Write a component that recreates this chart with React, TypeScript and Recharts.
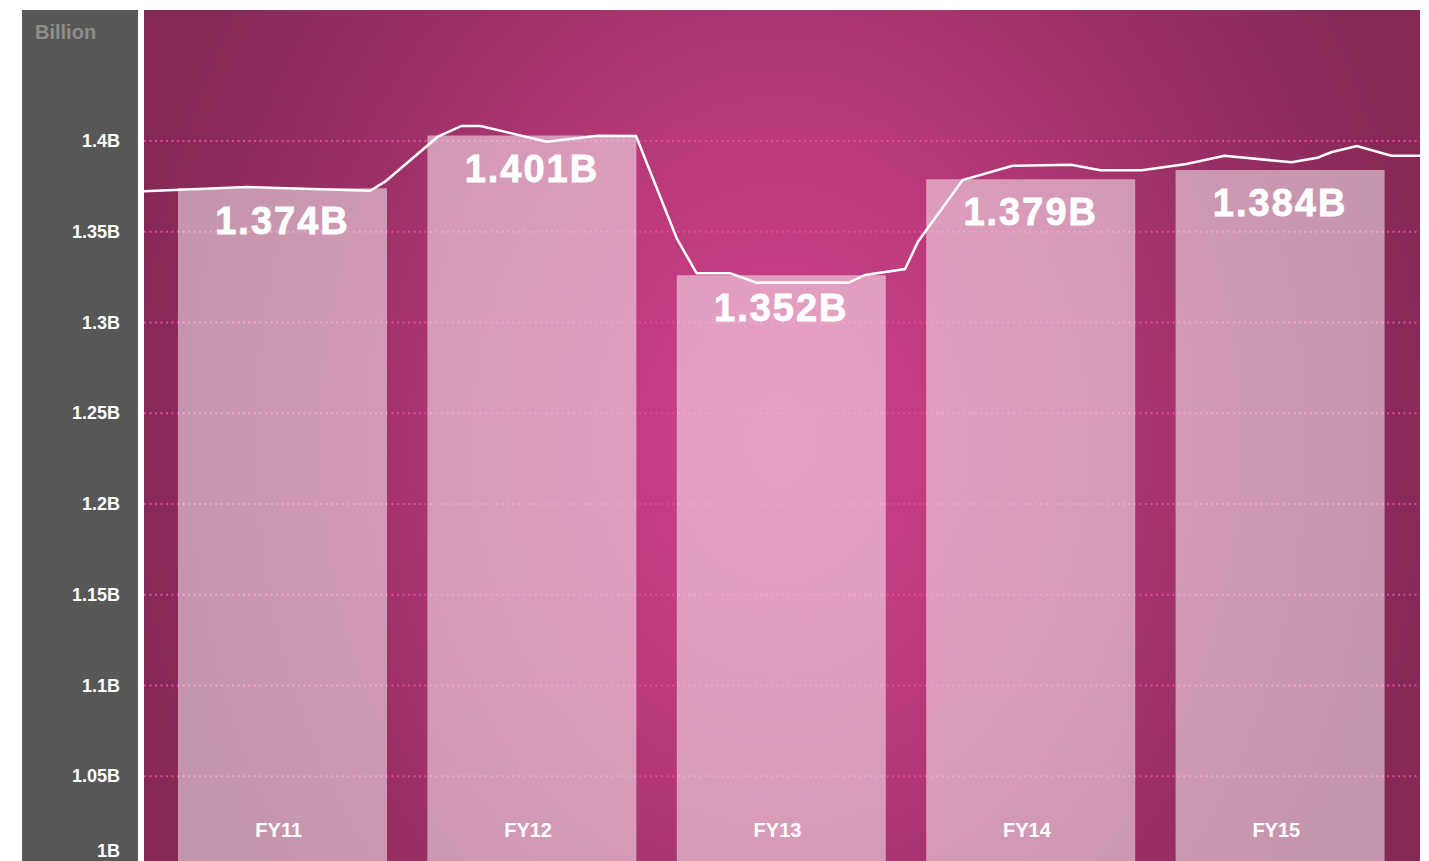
import React from 'react';
import { ComposedChart, Bar, Line, XAxis, YAxis, CartesianGrid, LabelList } from 'recharts';

// categories + bar values (FY13 bar is drawn lower than its label in the source)
const years = ['FY11', 'FY12', 'FY13', 'FY14', 'FY15'];
const barValues = [1.374, 1.403, 1.326, 1.379, 1.384];
const barLabels = ['1.374B', '1.401B', '1.352B', '1.379B', '1.384B'];
const yTicks = [1, 1.05, 1.1, 1.15, 1.2, 1.25, 1.3, 1.35, 1.4];

// trend line, position in "year index" units
const lineT = [
  -0.555, -0.142, 0.351, 0.411, 0.623, 0.718, 0.794, 1.059, 1.265, 1.417,
  1.58, 1.66, 1.794, 1.901, 2.268, 2.335, 2.495, 2.547, 2.726, 2.926,
  3.161, 3.278, 3.444, 3.623, 3.775, 4.044, 4.148, 4.203, 4.306, 4.444, 4.559,
];
const lineValues = [
  1.3724, 1.3747, 1.3726, 1.3776, 1.4024, 1.4083, 1.4083, 1.3996, 1.4029, 1.4028,
  1.3464, 1.3271, 1.3271, 1.3219, 1.3219, 1.3262, 1.3295, 1.3445, 1.3785, 1.3864,
  1.3869, 1.3839, 1.3839, 1.3873, 1.3919, 1.3883, 1.3908, 1.3938, 1.3972, 1.3919, 1.3919,
];

const barData = years.map((y, i) => ({ year: y, value: barValues[i], label: barLabels[i] }));
const lineData = lineT.map((t, i) => ({ t, v: lineValues[i] }));

const FONT = '"Liberation Sans", Arial, Helvetica, sans-serif';

const YTick = (props: any) => {
  const { x, y, payload } = props;
  return (
    <text x={x} y={payload.value === 1 ? y - 16 : y} textAnchor="end" dominantBaseline="central"
      fill="#ffffff" fontFamily={FONT} fontWeight={700} fontSize={18}>
      {payload.value}B
    </text>
  );
};

const XTick = (props: any) => {
  const { x, y, payload } = props;
  return (
    <text x={x - 4} y={y - 37} textAnchor="middle" dominantBaseline="central"
      fill="#ffffff" fontFamily={FONT} fontWeight={700} fontSize={20}>
      {payload.value}
    </text>
  );
};

const BarLabel = (props: any) => {
  const { x, y, width, value } = props;
  return (
    <text x={x + width / 2} y={y + 33} textAnchor="middle" dominantBaseline="central"
      fill="#ffffff" stroke="#ffffff" strokeWidth={0.8} fontFamily={FONT} fontWeight={700}
      fontSize={38} letterSpacing={2}>
      {value}
    </text>
  );
};

export default function App() {
  return (
    <div style={{ position: 'absolute', left: 0, top: 0, width: 1429, height: 861, overflow: 'hidden', background: '#fff' }}>
      <div style={{ position: 'absolute', left: 22, top: 10, width: 116, height: 900, background: '#575756' }}>
        <div style={{ position: 'absolute', left: 13, top: 11, color: '#8e8e8d', fontFamily: FONT, fontWeight: 700, fontSize: 20 }}>
          Billion
        </div>
      </div>
      <div style={{ position: 'absolute', left: 0, top: 0 }}>
        <ComposedChart width={1429} height={897} data={barData} margin={{ top: 10, right: 9, left: 0, bottom: 0 }}>
          <defs>
            <radialGradient id="bg" gradientUnits="userSpaceOnUse" cx={780} cy={440} r={660}
              gradientTransform="translate(780 440) scale(1 1.25) translate(-780 -440)">
              <stop offset="0%" stopColor="#cd428c" />
              <stop offset="35%" stopColor="#bb3a7b" />
              <stop offset="70%" stopColor="#9b3066" />
              <stop offset="100%" stopColor="#862957" />
            </radialGradient>
          </defs>
          <CartesianGrid vertical={false} horizontalValues={yTicks} fill="url(#bg)" fillOpacity={1}
            stroke="#e44a9c" strokeDasharray="2 3.5" strokeWidth={2} />
          <XAxis xAxisId="cat" dataKey="year" type="category" padding={{ left: 14, right: 15 }}
            axisLine={false} tickLine={false} tickSize={0} tickMargin={0} height={30} tick={<XTick />} />
          <XAxis xAxisId="t" dataKey="t" type="number" domain={[-0.555, 4.559]} allowDataOverflow hide />
          <YAxis type="number" domain={[1, 1.4722]} ticks={yTicks} allowDataOverflow width={144}
            axisLine={false} tickLine={false} tickSize={0} tickMargin={24} tick={<YTick />} interval={0} />
          <Bar xAxisId="cat" dataKey="value" barSize={209} fill="#ffffff" fillOpacity={0.5} isAnimationActive={false}>
            <LabelList dataKey="label" content={<BarLabel />} />
          </Bar>
          <Line xAxisId="t" data={lineData} dataKey="v" type="linear" stroke="#ffffff" strokeWidth={2.5}
            dot={false} activeDot={false} isAnimationActive={false} />
        </ComposedChart>
      </div>
    </div>
  );
}
